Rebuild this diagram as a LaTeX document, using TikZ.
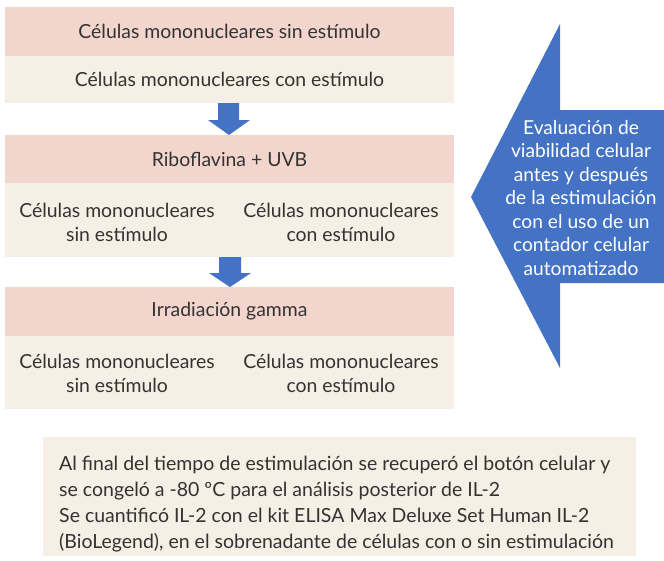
\documentclass[tikz,border=0pt]{standalone}
\usepackage{fontspec}
\setmainfont{Lato}
\definecolor{bandpink}{HTML}{F2D5CC}
\definecolor{bandbeige}{HTML}{F6EFE5}
\definecolor{arrowblue}{HTML}{4472C4}
\definecolor{txt}{HTML}{333333}
\begin{document}
\begin{tikzpicture}[x=1pt,y=-1pt,
  band/.style={minimum width=449pt,anchor=north west,inner sep=0pt,outer sep=0pt,text=txt,font=\fontsize{19.4}{22}\selectfont},
  pinkband/.style={band,fill=bandpink},
  beigeband/.style={band,fill=bandbeige},
  celltext/.style={align=center,text=txt,font=\fontsize{19.4}{24}\selectfont,inner sep=0pt},
  downarrow/.style={fill=arrowblue,draw=none}]
\useasboundingbox (0,0) rectangle (664,560);
% block 1
\node[pinkband,minimum height=49pt] (p1) at (5,7) {Células mononucleares sin estímulo};
\node[beigeband,minimum height=47pt] (b1) at (5,56) {Células mononucleares con estímulo};
% block 2
\node[pinkband,minimum height=48pt] (p2) at (5,135) {Riboflavina + UVB};
\node[beigeband,minimum height=74pt] (b2) at (5,183) {};
\node[celltext] (b2l) at (117,222) {Células mononucleares\\sin estímulo};
\node[celltext] (b2r) at (341,222) {Células mononucleares\\con estímulo};
% block 3
\node[pinkband,minimum height=49pt] (p3) at (5,287) {\raisebox{-2pt}{Irradiación gamma}};
\node[beigeband,minimum height=73pt] (b3) at (5,336) {};
\node[celltext] (b3l) at (117,373) {Células mononucleares\\sin estímulo};
\node[celltext] (b3r) at (341,373) {Células mononucleares\\con estímulo};
% down arrows
\coordinate (a1s) at (b1.south -| 229,0);
\coordinate (a1t) at (p2.north -| 229,0);
\fill[arrowblue] ([xshift=-11pt]a1s) -- ([xshift=10pt]a1s) -- ([xshift=10pt,yshift=-17pt]a1s) -- ([xshift=21pt,yshift=-17pt]a1s) -- (a1t) -- ([xshift=-21pt,yshift=-17pt]a1s) -- ([xshift=-11pt,yshift=-17pt]a1s) -- cycle;
\coordinate (a2s) at (b2.south -| 230,0);
\coordinate (a2t) at (p3.north -| 230,0);
\fill[arrowblue] ([xshift=-11pt]a2s) -- ([xshift=11pt]a2s) -- ([xshift=11pt,yshift=-16pt]a2s) -- ([xshift=21pt,yshift=-16pt]a2s) -- (a2t) -- ([xshift=-21pt,yshift=-16pt]a2s) -- ([xshift=-11pt,yshift=-16pt]a2s) -- cycle;
% big left arrow
\fill[arrowblue] (471,197) -- (560,24) -- (560,110) -- (664,110) -- (664,283) -- (560,283) -- (560,368) -- cycle;
\node[align=center,text=white,font=\fontsize{19.2}{23.5}\selectfont,inner sep=0pt] (eval) at (581,198)
  {Evaluación de\\viabilidad celular\\antes y después\\de la estimulación\\con el uso de un\\contador celular\\automatizado};
% bottom box
\fill[bandbeige] (43,437) rectangle (636,556);
\node[anchor=west,align=left,text=txt,font=\fontsize{19.5}{25.9}\selectfont,inner sep=0pt] (notes) at (59,504)
  {Al final del tiempo de estimulación se recuperó el botón celular y\\se congeló a -80 ºC para el análisis posterior de IL-2\\Se cuantificó IL-2 con el kit ELISA Max Deluxe Set Human IL-2\\(BioLegend), en el sobrenadante de células con o sin estimulación};
\end{tikzpicture}
\end{document}
